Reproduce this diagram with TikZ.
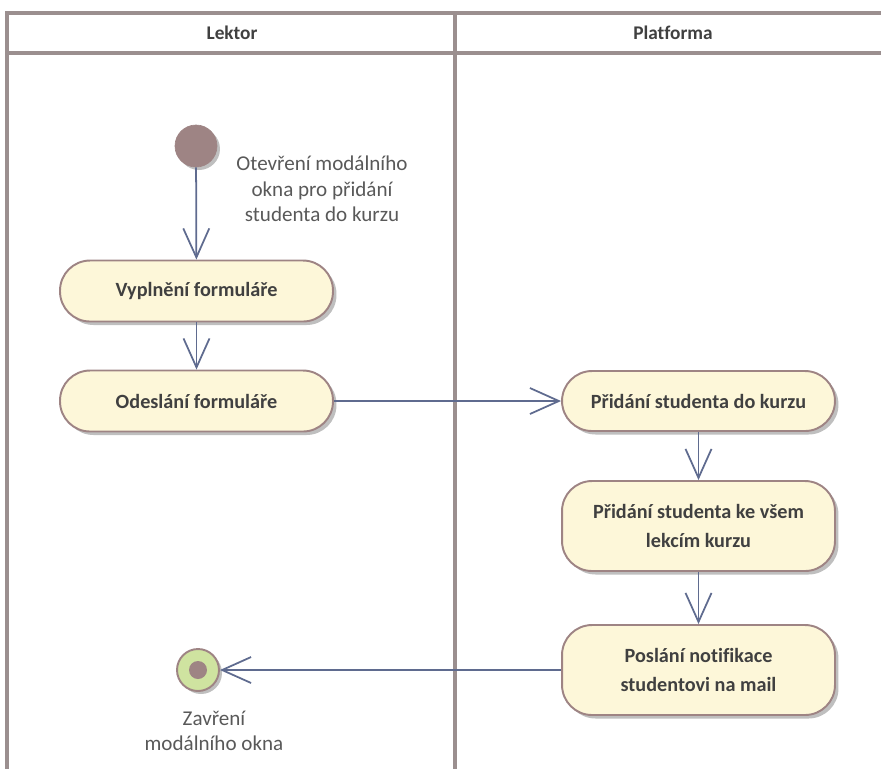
\documentclass[tikz,border=0pt]{standalone}
\usepackage{fontspec}
\setmainfont[Ligatures=NoCommon]{Carlito}
\usetikzlibrary{arrows.meta,shadows}
\definecolor{lane}{RGB}{155,143,143}
\definecolor{flow}{RGB}{95,107,143}
\definecolor{actfill}{RGB}{253,247,217}
\definecolor{actedge}{RGB}{158,132,132}
\definecolor{dot}{RGB}{158,132,132}
\definecolor{endfill}{RGB}{207,227,160}
\definecolor{txt}{RGB}{64,64,64}
\definecolor{lbl}{RGB}{89,89,89}

\begin{document}
\begin{tikzpicture}[x=0.02cm,y=-0.02cm,
  act/.style={draw=actedge,line width=1.1pt,fill=actfill,rounded corners=0.6cm,
    minimum width=5.46cm,align=center,text=txt,
    font=\bfseries\fontsize{11.5}{16}\selectfont,
    drop shadow={shadow xshift=0.07cm,shadow yshift=-0.07cm,opacity=0.25,fill=black}},
  flowline/.style={draw=flow,line width=1pt,-{Straight Barb[length=0.58cm,width=0.52cm]}},
  note/.style={align=center,text=lbl,font=\fontsize{12}{14.4}\selectfont}]
\useasboundingbox (0,0) rectangle (881,769);

% swimlanes
\begin{scope}[draw=lane,line width=2pt]
\draw (881,13) -- (7,13) -- (7,769);
\draw (7,53) -- (881,53);
\draw (455,13) -- (455,769);
\end{scope}
\node[text=txt,font=\bfseries\fontsize{11}{13}\selectfont] (lektor) at (232,33) {Lektor};
\node[text=txt,font=\bfseries\fontsize{11}{13}\selectfont] (platforma) at (673,33) {Platforma};

% nodes
\node[circle,fill=dot,draw=actedge,minimum size=0.84cm,inner sep=0pt,
  drop shadow={shadow xshift=0.06cm,shadow yshift=-0.06cm,opacity=0.25,fill=black}] (start) at (196,146) {};
\node[note] (otevreni) at (322,189) {Otevření modálního\\okna pro přidání\\studenta do kurzu};

\node[act,minimum height=1.22cm] (vyplneni) at (196.5,291) {Vyplnění formuláře};
\node[act,minimum height=1.22cm] (odeslani) at (196.5,401) {Odeslání formuláře};
\node[act,minimum height=1.2cm] (pridani) at (698.5,401) {Přidání studenta do kurzu};
\node[act,minimum height=1.8cm] (lekce) at (698.5,526) {Přidání studenta ke všem\\lekcím kurzu};
\node[act,minimum height=1.8cm] (notifikace) at (698.5,670) {Poslání notifikace\\studentovi na mail};

\node[circle,fill=endfill,draw=actedge,line width=1.1pt,minimum size=0.84cm,inner sep=0pt,
  drop shadow={shadow xshift=0.06cm,shadow yshift=-0.06cm,opacity=0.25,fill=black}] (konec) at (198,670) {};
\node[circle,fill=dot,minimum size=0.36cm,inner sep=0pt] (konecdot) at (konec) {};
\node[note] (zavreni) at (214,731) {Zavření\\modálního okna};

% edges
\draw[flowline] (start) -- (vyplneni);
\draw[flowline] (vyplneni) -- (odeslani);
\draw[flowline] (odeslani) -- (pridani);
\draw[flowline] (pridani) -- (lekce);
\draw[flowline] (lekce) -- (notifikace);
\draw[flowline] (notifikace) -- (konec);
\end{tikzpicture}
\end{document}
